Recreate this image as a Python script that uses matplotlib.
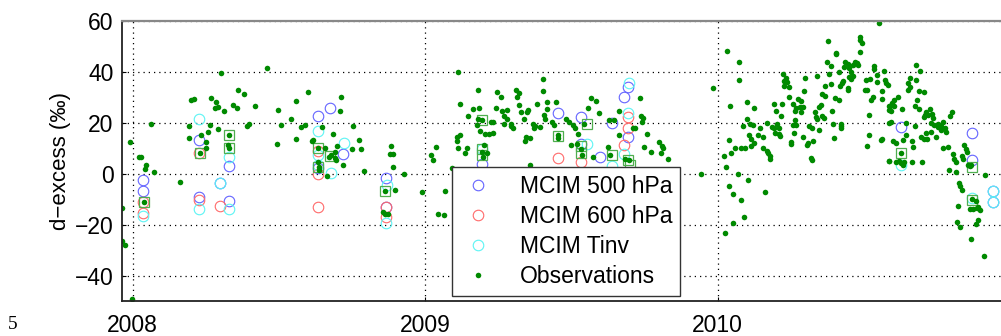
import numpy as np
import matplotlib
matplotlib.use("Agg")
import matplotlib.pyplot as plt

plt.rcParams['font.family'] = ['Liberation Sans', 'DejaVu Sans']

# ---- observed d-excess (decimal year, permil) ----
obs_t = [
    2007.991, 2007.964, 2007.964, 2007.975, 2007.999, 2008.022, 2008.028, 2008.046, 2008.042, 2008.072,
    2008.064, 2008.037, 2008.160, 2008.191, 2008.191, 2008.199, 2008.210, 2008.234, 2008.229, 2008.251,
    2008.249, 2008.256, 2008.264, 2008.268, 2008.285, 2008.293, 2008.282, 2008.311, 2008.290, 2008.303,
    2008.342, 2008.355, 2008.359, 2008.381, 2008.329, 2008.326, 2008.330, 2008.390, 2008.397,
    2008.459, 2008.419, 2008.498, 2008.506, 2008.493, 2008.541, 2008.559, 2008.559, 2008.601, 2008.576,
    2008.590, 2008.613, 2008.615, 2008.646, 2008.633, 2008.658, 2008.632, 2008.637, 2008.636, 2008.663,
    2008.672, 2008.677, 2008.686, 2008.690, 2008.693, 2008.694, 2008.699, 2008.707, 2008.711, 2008.720,
    2008.754, 2008.750, 2008.772, 2008.780, 2008.790,
    2008.884, 2008.880, 2008.889, 2008.890, 2008.929, 2008.864, 2008.898, 2008.855, 2008.864, 2008.872,
    2008.990, 2009.021, 2009.026, 2009.038, 2009.045, 2009.064, 2009.068, 2009.090, 2009.111, 2009.107,
    2009.119, 2009.107, 2009.111, 2009.120, 2009.137, 2009.142, 2009.146, 2009.164, 2009.181, 2009.185,
    2009.177, 2009.182, 2009.194, 2009.189, 2009.206, 2009.219, 2009.231, 2009.225, 2009.233, 2009.202,
    2009.194, 2009.210, 2009.197, 2009.242, 2009.247, 2009.259, 2009.263, 2009.271, 2009.271,
    2009.404, 2009.404, 2009.311, 2009.315, 2009.320, 2009.280, 2009.320, 2009.326, 2009.348, 2009.352,
    2009.337, 2009.381, 2009.415, 2009.446, 2009.417, 2009.406, 2009.410, 2009.280, 2009.292, 2009.300,
    2009.294, 2009.368, 2009.377, 2009.392, 2009.373, 2009.344, 2009.358, 2009.340, 2009.434, 2009.440,
    2009.455, 2009.455, 2009.481, 2009.490, 2009.505, 2009.511, 2009.521, 2009.544, 2009.568, 2009.584,
    2009.556, 2009.594, 2009.629, 2009.646, 2009.663, 2009.661, 2009.499, 2009.520, 2009.533, 2009.536,
    2009.574, 2009.625, 2009.632, 2009.682, 2009.696, 2009.358,
    2009.733, 2009.738, 2009.745, 2009.741, 2009.710, 2009.718, 2009.759, 2009.747, 2009.772, 2009.798,
    2009.810, 2009.813, 2009.807, 2009.829, 2009.942, 2009.984, 2010.033, 2010.072, 2010.072, 2010.042,
    2010.101, 2010.124, 2010.099, 2010.086, 2010.112, 2010.120, 2010.146, 2010.137, 2010.106, 2010.113,
    2010.124, 2010.040, 2010.058, 2010.080, 2010.095, 2010.115, 2010.047, 2010.020, 2010.029, 2010.069,
    2010.104, 2010.038, 2010.051, 2010.081, 2010.090, 2010.051, 2010.025,
    2010.551, 2010.377, 2010.488, 2010.494, 2010.488, 2010.406, 2010.403, 2010.485, 2010.372, 2010.387,
    2010.436, 2010.445, 2010.432, 2010.449, 2010.468, 2010.476, 2010.479, 2010.464, 2010.534, 2010.536,
    2010.569, 2010.222, 2010.233, 2010.228, 2010.238, 2010.227, 2010.243, 2010.299, 2010.339, 2010.379,
    2010.413, 2010.457, 2010.450, 2010.462, 2010.429, 2010.424, 2010.389, 2010.417, 2010.368, 2010.444,
    2010.447, 2010.456, 2010.506, 2010.521, 2010.503, 2010.510, 2010.543, 2010.546, 2010.572, 2010.576,
    2010.581, 2010.563, 2010.530, 2010.524, 2010.560, 2010.294, 2010.357, 2010.366, 2010.401, 2010.413,
    2010.244, 2010.276, 2010.284, 2010.191, 2010.221, 2010.259, 2010.268, 2010.280, 2010.291, 2010.264,
    2010.284, 2010.200, 2010.217, 2010.354, 2010.348, 2010.391, 2010.331, 2010.336, 2010.341, 2010.357,
    2010.364, 2010.347, 2010.313, 2010.322, 2010.265, 2010.257, 2010.267, 2010.260, 2010.168, 2010.185,
    2010.193, 2010.203, 2010.208, 2010.196, 2010.211, 2010.213, 2010.155, 2010.293, 2010.249, 2010.252,
    2010.309, 2010.306, 2010.325, 2010.155, 2010.168, 2010.172, 2010.178, 2010.180, 2010.318, 2010.322,
    2010.163, 2010.393, 2010.420, 2010.423, 2010.421, 2010.399, 2010.517, 2010.517, 2010.512, 2010.557,
    2010.560, 2010.584, 2010.587, 2010.586, 2010.586,
    2010.679, 2010.691, 2010.657, 2010.679, 2010.651, 2010.657, 2010.651, 2010.688, 2010.704, 2010.615,
    2010.604, 2010.597, 2010.682, 2010.673, 2010.604, 2010.589, 2010.592, 2010.631, 2010.688, 2010.725,
    2010.712, 2010.704, 2010.708, 2010.720, 2010.731, 2010.737, 2010.800, 2010.795, 2010.594, 2010.643,
    2010.674, 2010.729, 2010.740, 2010.752, 2010.754, 2010.765, 2010.771, 2010.777, 2010.782, 2010.763,
    2010.712, 2010.729, 2010.643, 2010.694, 2010.705, 2010.717, 2010.748, 2010.599, 2010.608, 2010.633,
    2010.665, 2010.667, 2010.769, 2010.788, 2010.626, 2010.585, 2010.608, 2010.619, 2010.626, 2010.638,
    2010.635, 2010.665, 2010.699, 2010.804, 2010.809, 2010.813, 2010.843, 2010.850, 2010.853, 2010.836,
    2010.839, 2010.856, 2010.866, 2010.861, 2010.790, 2010.813, 2010.913, 2010.825, 2010.830, 2010.834,
    2010.821, 2010.868, 2010.882, 2010.863, 2010.874, 2010.885, 2010.896, 2010.891, 2010.817, 2010.827,
    2010.891, 2010.882, 2010.865, 2010.909,
]
obs_d = [
    12.5, -13.4, -26.6, -27.9, -49.3, 6.6, 6.6, 3.3, 1.7, 0.5,
    19.5, -11.3, -3.4, 18.6, 14.0, 29.0, 29.4, 15.1, 8.1, 12.5,
    10.1, 16.4, 19.0, 29.6, 28.0, 26.1, 25.6, 24.5, 17.6, 39.6,
    27.1, 25.6, 33.0, 31.1, 15.1, 11.1, 10.1, 18.6, 19.5,
    41.5, 26.5, 25.0, 19.0, 11.5, 21.6, 28.6, 13.5, 32.1, 18.1,
    19.0, 12.6, 13.0, 18.1, 10.1, 10.1, 4.5, 2.5, 1.6, -0.8,
    6.7, 7.2, 15.5, 8.5, 6.2, 5.2, 11.0, 24.5, 29.9, 3.5,
    18.6, 9.6, 13.1, 9.6, 1.0,
    11.0, 7.6, 7.6, 2.6, -0.3, -6.8, -6.4, -15.1, -15.7, -16.0,
    -7.3, 7.2, 5.5, 10.6, -15.9, -16.4, -6.8, 2.1, 40.0, 14.4,
    15.1, 12.6, 10.1, 27.5, 8.1, 10.1, 22.5, 25.4, 33.0, 25.9,
    19.0, 21.6, 21.0, 16.9, 15.7, 15.6, 16.0, 20.1, 20.1, 11.4,
    8.5, 8.0, 6.6, 25.6, 32.1, 30.0, 24.5, 22.7, 19.5,
    37.0, 32.5, 33.0, 29.9, 31.5, 24.9, 27.1, 24.0, 24.0, 24.9,
    21.6, 27.5, 28.2, 28.2, 25.3, 22.9, 21.6, 21.6, 19.3, 17.7,
    18.7, 19.3, 18.7, 18.3, 17.7, 14.2, 13.8, 12.8, 20.1, 19.0,
    15.3, 14.0, 21.6, 20.3, 18.9, 17.7, 15.6, 19.4, 29.8, 28.6,
    25.6, 23.6, 21.0, 21.0, 24.5, 15.3, 11.4, 11.8, 9.6, 7.2,
    6.6, 10.5, 7.2, 5.9, 5.2, 3.4,
    29.5, 22.5, 21.9, 20.1, 17.7, 17.7, 15.5, 10.5, 8.5, 12.5,
    10.7, 10.2, 8.0, 5.6, -0.3, 33.6, 48.1, 43.9, 36.6, 26.6,
    28.2, 25.9, 21.6, 18.6, 19.5, 19.0, 17.7, 15.1, 15.1, 13.5,
    11.9, 13.1, 10.1, 10.1, 10.1, 10.7, 8.0, 6.8, 2.6, -0.3,
    -2.4, -4.8, -7.9, -10.5, -16.9, -19.3, -23.3,
    59.1, 52.0, 53.5, 51.1, 52.4, 47.4, 46.9, 47.8, 43.9, 42.2,
    43.9, 42.9, 41.7, 41.3, 43.9, 43.5, 42.6, 42.6, 42.2, 41.0,
    40.4, 39.1, 37.4, 36.3, 35.8, 34.2, 33.9, 37.4, 38.4, 39.1,
    40.0, 39.7, 38.0, 38.4, 36.4, 35.4, 35.0, 34.5, 34.3, 33.4,
    32.8, 37.2, 36.7, 37.2, 32.9, 32.9, 38.8, 35.9, 36.7, 35.4,
    34.7, 32.6, 30.0, 28.7, 29.1, 32.6, 31.1, 30.5, 29.5, 28.8,
    30.0, 29.2, 28.4, 27.5, 27.5, 27.5, 25.6, 26.2, 26.1, 24.6,
    24.2, 24.5, 22.5, 26.9, 26.2, 24.5, 24.0, 22.4, 21.6, 22.7,
    21.9, 17.0, 18.7, 18.0, 21.0, 19.0, 19.0, 16.1, 19.9, 18.3,
    17.7, 19.3, 17.7, 16.1, 15.7, 14.8, 14.5, 14.5, 12.5, 11.5,
    12.2, 11.3, 12.7, 10.1, 8.8, 8.1, 6.8, 5.6, 6.2, 5.5,
    -7.3, 19.5, 19.3, 17.7, 18.6, 14.0, 22.9, 15.1, 10.7, 13.1,
    13.5, 26.6, 24.9, 19.9, 5.1,
    42.6, 40.4, 37.6, 36.6, 35.4, 34.1, 32.8, 32.5, 32.1, 30.0,
    29.0, 27.7, 29.0, 26.6, 26.5, 26.6, 24.5, 25.3, 25.2, 25.2,
    24.0, 22.3, 22.9, 22.9, 23.2, 21.9, 24.2, 22.5, 20.1, 19.7,
    18.6, 19.7, 19.0, 19.3, 18.3, 18.7, 20.1, 17.7, 16.4, 17.0,
    16.1, 16.4, 15.1, 14.4, 13.5, 13.5, 14.4, 12.7, 12.2, 13.0,
    12.6, 10.5, 10.1, 10.5, 8.1, 5.0, 4.6, 5.0, 4.3, 4.6,
    3.3, 4.6, 4.6, 7.6, 5.9, 4.6, 11.1, 9.8, 8.5, 6.8,
    5.6, 3.5, 3.3, 2.9, 1.3, 0.7, -0.7, -3.7, -5.0, -6.6,
    -12.8, -9.8, -10.9, -14.0, -13.8, -13.5, -14.4, -13.1, -19.0, -21.0,
    -18.3, -19.7, -25.8, -32.4,
]

# ---- observations at model comparison dates ----
match_t = [2008.037, 2008.229, 2008.329, 2008.329, 2008.633, 2008.633, 2008.675, 2008.864,
           2009.195, 2009.195, 2009.195, 2009.455, 2009.531, 2009.531, 2009.552, 2009.638,
           2009.693, 2009.701, 2010.626, 2010.870, 2010.870]
match_d = [-11.3, 8.1, 15.2, 10.2, 10.1, 2.5, 7.0, -6.8,
           21.2, 9.8, 7.2, 14.6, 11.0, 8.2, 19.5, 7.3,
           5.3, 3.4, 8.2, 2.6, -10.2]

# ---- MCIM model results ----
p500_t = [2008.035, 2008.035, 2008.227, 2008.227, 2008.299, 2008.329, 2008.329, 2008.634, 2008.634,
          2008.675, 2008.720, 2008.866, 2008.866, 2009.195, 2009.454, 2009.532, 2009.532, 2009.598,
          2009.638, 2009.680, 2009.692, 2009.692, 2010.626, 2010.870, 2010.870, 2010.941, 2010.941]
p500_d = [-2.5, -6.7, 13.2, -9.1, -3.6, 2.9, -10.6, 22.5, 2.3,
          25.6, 7.5, -1.8, -13.2, 3.8, 23.7, 22.3, 11.5, 6.4,
          19.7, 30.2, 34.1, 14.5, 18.3, 15.9, 5.4, -7.0, -11.3]

p600_t = [2008.035, 2008.035, 2008.227, 2008.227, 2008.297, 2008.634, 2008.634, 2008.634,
          2008.866, 2008.866, 2009.454, 2009.532, 2009.692, 2009.692, 2009.680]
p600_d = [-11.3, -15.6, 8.0, -10.2, -12.8, 8.8, 0.0, -13.2,
          -13.0, -17.2, 6.2, 4.4, 22.3, 17.8, 11.2]

tinv_t = [2008.035, 2008.227, 2008.227, 2008.299, 2008.329, 2008.329, 2008.634, 2008.634, 2008.634,
          2008.678, 2008.722, 2008.866, 2008.870, 2009.195, 2009.554, 2009.638, 2009.696, 2009.692,
          2009.680, 2010.626, 2010.870, 2010.941, 2010.941]
tinv_d = [-16.5, 21.3, -14.0, -3.8, 6.6, -13.8, 16.7, 7.2, 3.2,
          0.4, 12.2, -19.4, -4.5, 9.8, 11.5, 3.1, 35.4, 23.7,
          7.7, 3.5, -9.6, -7.0, -11.3]

year_ticks = [2008, 2009, 2010]
d_ticks = [-40, -20, 0, 20, 40, 60]

W, H = 1001, 336
fig = plt.figure(figsize=(W / 100, H / 100), dpi=100)
ax = fig.add_axes([122 / W, 1 - 301 / H, (1010.2 - 122) / W, (301 - 20.7) / H])

ring = dict(linestyle='none', marker='o', markersize=7.6, markerfacecolor='none', markeredgewidth=0.8)
ax.plot(p500_t, p500_d, markeredgecolor='#6464ff', label='MCIM 500 hPa', **ring)
ax.plot(p600_t, p600_d, markeredgecolor='#ff6a6a', label='MCIM 600 hPa', **ring)
ax.plot(tinv_t, tinv_d, markeredgecolor='#5cf4f4', label='MCIM Tinv', **ring)
ax.plot(match_t, match_d, linestyle='none', marker='s', markersize=7.2, markerfacecolor='none',
        markeredgecolor='#4fae4f', markeredgewidth=0.9)
ax.plot(obs_t, obs_d, linestyle='none', marker='o', markersize=4.0, markeredgewidth=0,
        color='#008a00', label='Observations')

ax.set_xlim(2007.9634, 2011.0)
ax.set_ylim(-50, 60)
ax.set_xticks(year_ticks)
ax.set_xticklabels([str(y) for y in year_ticks])
ax.set_yticks(d_ticks)
ax.set_yticklabels(['\u221240', '\u221220', '0', '20', '40', '60'])
ax.tick_params(direction='in', length=3, width=0.8, labelsize=16.5, pad=6, colors='black')
ax.tick_params(axis='x', pad=9)
ax.grid(True, color='black', linestyle=(0, (1, 3.2)), linewidth=0.9)
ax.set_axisbelow(True)

for side in ('left', 'bottom'):
    ax.spines[side].set_color('#222222')
    ax.spines[side].set_linewidth(1.3)
ax.spines['top'].set_color('#888888')
ax.spines['top'].set_linewidth(1.6)
ax.spines['right'].set_visible(False)

ax.set_ylabel('d\u2212excess (\u2030)', fontsize=16, labelpad=3)

leg = ax.legend(loc='upper left', bbox_to_anchor=(452 / W, 1 - 167 / H), bbox_transform=fig.transFigure,
                fontsize=16.5, frameon=True, fancybox=False, framealpha=1, edgecolor='#333333',
                borderaxespad=0, borderpad=0.35, labelspacing=0.3, handlelength=1.6,
                handletextpad=1.0, markerscale=1.0)
leg.get_frame().set_linewidth(1.0)

# page line number in the lower-left margin
fig.text(8 / W, 1 - 333 / H, '5', family='Liberation Serif', fontsize=14, ha='left', va='bottom')

fig.savefig('out.png', dpi=100)
